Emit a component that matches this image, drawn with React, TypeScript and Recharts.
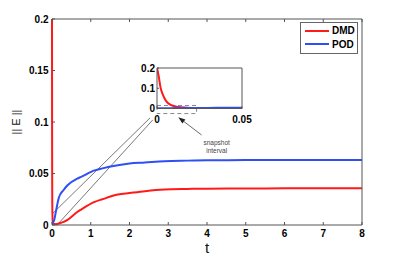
import React from 'react';
import {
  LineChart,
  Line,
  XAxis,
  YAxis,
  ReferenceLine,
  ReferenceArea,
  ReferenceDot,
  Legend,
} from 'recharts';

// time samples (dense near t = 0 so the inset can show the first snapshot interval)
const time = [
  0, 0.001, 0.002, 0.0035, 0.0055, 0.0085, 0.0125, 0.0175, 0.023, 0.03, 0.04, 0.05,
  0.1, 0.18, 0.3, 0.4, 0.65, 0.75, 1.1, 1.3, 1.7, 2, 2.4, 2.9, 3.5, 4, 5, 6, 7, 8,
];
const dmdError = [
  0.2, 0.16, 0.107, 0.067, 0.035, 0.016, 0.008, 0.004, 0.002, 0.0015, 0.0012, 0.0012,
  0.0008, 0.0015, 0.003, 0.005, 0.0126, 0.015, 0.0224, 0.025, 0.0296, 0.031, 0.0328,
  0.0344, 0.035, 0.0353, 0.0355, 0.0356, 0.0357, 0.0357,
];
const podError = [
  0.001, 0.001, 0.0012, 0.0014, 0.0016, 0.0018, 0.002, 0.0023, 0.0026, 0.003, 0.0035,
  0.004, 0.013, 0.027, 0.034, 0.0386, 0.045, 0.0467, 0.053, 0.055, 0.058, 0.0597,
  0.0607, 0.062, 0.0625, 0.0628, 0.063, 0.0632, 0.0632, 0.0632,
];
const seriesNames = ['DMD', 'POD'];

const xTicks = [0, 1, 2, 3, 4, 5, 6, 7, 8];
const yTicks = [0, 0.05, 0.1, 0.15, 0.2];
const insetXTicks = [0, 0.05];
const insetYTicks = [0, 0.1, 0.2];

// annotations, in data units
const zoomLineA = [{ x: 0, y: 0.0105 }, { x: 2.53, y: 0.104 }];
const zoomLineB = [{ x: 0.13, y: 0 }, { x: 2.6, y: 0.102 }];
const arrowSegment = [{ x: 3.86, y: 0.0874 }, { x: 3.26, y: 0.1046 }];
const noteAt = { x: 4.25, y: 0.078 };
const noteLines = ['snapshot', 'interval'];
const snapshotBox = { x1: 0, x2: 0.0233, y1: -0.025, y2: 0.015 };

const data = time.map((t, i) => ({ t, DMD: dmdError[i], POD: podError[i] }));

const RED = '#ff1a1a';
const BLUE = '#2f4ff5';
const AXIS = '#555';
const FONT = "'Liberation Sans', Arial, sans-serif";
const tickStyle = { fontSize: 10, fontWeight: 'bold', fill: '#000', fontFamily: FONT };
const noLabel = () => <g />;

const Arrow = (p: any) => {
  const { x1, y1, x2, y2 } = p;
  const a = Math.atan2(y2 - y1, x2 - x1);
  const len = 7;
  const w = 2.5;
  const bx = x2 - len * Math.cos(a);
  const by = y2 - len * Math.sin(a);
  const pts = [
    [x2, y2],
    [bx + w * Math.sin(a), by - w * Math.cos(a)],
    [bx - w * Math.sin(a), by + w * Math.cos(a)],
  ]
    .map((q) => q.join(','))
    .join(' ');
  return (
    <g>
      <line x1={x1} y1={y1} x2={bx} y2={by} stroke="#444" strokeWidth={0.8} />
      <polygon points={pts} fill="#222" />
    </g>
  );
};

const Note = (p: any) => (
  <text x={p.cx} y={p.cy} textAnchor="middle" fontSize={6.5} fill="#444" fontFamily={FONT}>
    {noteLines.map((s, i) => (
      <tspan key={s} x={p.cx} dy={i === 0 ? 0 : 8.5}>
        {s}
      </tspan>
    ))}
  </text>
);

const LegendBox = () => (
  <div
    style={{
      border: '1px solid #666',
      background: '#fff',
      width: 56,
      padding: '1px 0 2px 0',
      fontFamily: FONT,
      fontSize: 10,
      fontWeight: 'bold',
      boxSizing: 'content-box',
    }}
  >
    {seriesNames.map((name, i) => (
      <div key={name} style={{ display: 'flex', alignItems: 'center', height: 13.5 }}>
        <span
          style={{
            display: 'inline-block',
            width: 24,
            height: 2,
            marginLeft: 4,
            marginRight: 3,
            background: i === 0 ? RED : BLUE,
          }}
        />
        <span>{name}</span>
      </div>
    ))}
  </div>
);

export default function App() {
  return (
    <div style={{ position: 'absolute', left: 0, top: 0, width: 399, height: 256, background: '#fff' }}>
      <LineChart width={399} height={256} data={data} margin={{ top: 18, right: 36, bottom: 0, left: 0 }}>
        <XAxis
          dataKey="t"
          type="number"
          domain={[0, 8]}
          ticks={xTicks}
          interval={0}
          height={31}
          tickSize={-3}
          tickMargin={8}
          tick={tickStyle}
          stroke={AXIS}
          label={{
            content: ({ viewBox }: any) => (
              <text
                x={viewBox.x + viewBox.width / 2}
                y={253}
                textAnchor="middle"
                fontSize={15}
                fontFamily={FONT}
                fill="#111"
              >
                t
              </text>
            ),
          }}
        />
        <XAxis
          xAxisId="top"
          orientation="top"
          dataKey="t"
          type="number"
          domain={[0, 8]}
          ticks={xTicks}
          interval={0}
          height={1}
          tickSize={-3}
          tick={noLabel}
          stroke={AXIS}
        />
        <YAxis
          type="number"
          domain={[0, 0.2]}
          ticks={yTicks}
          interval={0}
          width={52}
          tickSize={-3}
          tickMargin={6.5}
          tick={tickStyle}
          axisLine={false}
          stroke={AXIS}
          label={{
            content: ({ viewBox }: any) => {
              const cx = 16;
              const cy = viewBox.y + viewBox.height / 2;
              return (
                <text
                  x={cx}
                  y={cy}
                  transform={`rotate(-90 ${cx} ${cy})`}
                  textAnchor="middle"
                  dominantBaseline="central"
                  fontSize={11}
                  fontFamily={FONT}
                  fill="#111"
                >
                  || E ||
                </text>
              );
            },
          }}
        />
        <YAxis
          yAxisId="right"
          orientation="right"
          type="number"
          domain={[0, 0.2]}
          ticks={yTicks}
          interval={0}
          width={1}
          tickSize={-3}
          tick={noLabel}
          stroke={AXIS}
        />
        <ReferenceLine segment={zoomLineA} stroke="#555" strokeWidth={0.8} ifOverflow="visible" />
        <ReferenceLine segment={zoomLineB} stroke="#555" strokeWidth={0.8} ifOverflow="visible" />
        <ReferenceLine segment={arrowSegment} ifOverflow="visible" shape={Arrow} />
        <ReferenceDot x={noteAt.x} y={noteAt.y} ifOverflow="visible" shape={Note} />
        <Line type="monotone" dataKey="DMD" stroke={RED} strokeWidth={2} dot={false} isAnimationActive={false} />
        <Line type="monotone" dataKey="POD" stroke={BLUE} strokeWidth={2} dot={false} isAnimationActive={false} />
        <Legend
          layout="vertical"
          align="center"
          verticalAlign="middle"
          content={LegendBox}
          wrapperStyle={{ left: 300, top: 22, width: 58, height: 30 }}
        />
      </LineChart>

      <div style={{ position: 'absolute', left: 120, top: 56 }}>
        <LineChart width={140} height={70} data={data} margin={{ top: 11, right: 17, bottom: 0, left: 0 }}>
          <XAxis
            dataKey="t"
            type="number"
            domain={[0, 0.05]}
            allowDataOverflow
            ticks={insetXTicks}
            interval={0}
            height={17.5}
            tickSize={-2}
            tickMargin={9.5}
            tick={tickStyle}
            stroke={AXIS}
          />
          <XAxis
            xAxisId="top"
            orientation="top"
            dataKey="t"
            type="number"
            domain={[0, 0.05]}
            allowDataOverflow
            height={1}
            tick={noLabel}
            tickLine={false}
            stroke={AXIS}
          />
          <YAxis
            type="number"
            domain={[0, 0.2]}
            allowDataOverflow
            ticks={insetYTicks}
            interval={0}
            width={37}
            tickSize={-2}
            tickMargin={4}
            tick={tickStyle}
            stroke={AXIS}
          />
          <YAxis
            yAxisId="right"
            orientation="right"
            type="number"
            domain={[0, 0.2]}
            ticks={insetYTicks}
            interval={0}
            width={1}
            tickSize={-2}
            tick={noLabel}
            stroke={AXIS}
          />
          <ReferenceArea
            {...snapshotBox}
            fill="none"
            stroke="#888"
            strokeDasharray="4 3"
            ifOverflow="visible"
          />
          <Line type="monotone" dataKey="DMD" stroke={RED} strokeWidth={2} dot={false} isAnimationActive={false} />
          <Line type="monotone" dataKey="POD" stroke={BLUE} strokeWidth={2} dot={false} isAnimationActive={false} />
        </LineChart>
      </div>
    </div>
  );
}
